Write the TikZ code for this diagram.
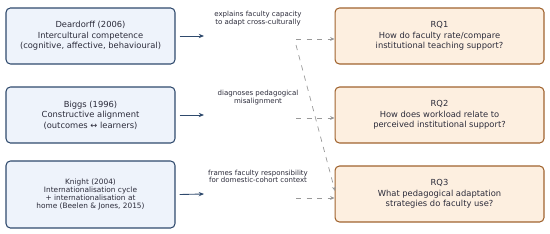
\documentclass[tikz,border=0pt]{standalone}
\usepackage{fontspec}
\setmainfont{DejaVu Sans}
\usetikzlibrary{arrows.meta}
\definecolor{srcline}{HTML}{2F4A6D}
\definecolor{srcfill}{HTML}{EEF3FB}
\definecolor{rqline}{HTML}{A0632E}
\definecolor{rqfill}{HTML}{FDEFE0}
\definecolor{txt}{HTML}{2B2B3A}
\begin{document}
\begin{tikzpicture}[x=0.02cm,y=-0.02cm,>=stealth,
  srcbox/.style={draw=srcline,fill=srcfill,rounded corners=2.5pt,line width=0.6pt,minimum width=3.38cm,minimum height=1.12cm,align=center,text=txt,font=\fontsize{4.75}{6}\selectfont},
  rqbox/.style={draw=rqline,fill=rqfill,rounded corners=2.5pt,line width=0.6pt,minimum width=4.18cm,minimum height=1.12cm,align=center,text=txt,font=\fontsize{4.75}{6}\selectfont},
  linklabel/.style={align=center,text=txt,font=\fontsize{4}{4.4}\selectfont},
  flow/.style={-{Stealth[length=3pt,width=2.4pt]},draw=srcline,line width=0.5pt},
  maps/.style={-{Stealth[length=2.5pt,width=2.2pt]},draw=gray!80,dashed,line width=0.4pt}]
  \useasboundingbox (0,0) rectangle (550,233);
  % theory boxes
  \node[srcbox] (d) at (90.5,36) {Deardorff (2006)\\Intercultural competence\\(cognitive, affective, behavioural)};
  \node[srcbox] (b) at (90.5,115) {Biggs (1996)\\Constructive alignment\\(outcomes ↔ learners)};
  \node[srcbox,minimum height=1.34cm,font=\fontsize{4.2}{4.45}\selectfont] (k) at (90.5,194.5) {Knight (2004)\\Internationalisation cycle\\+ internationalisation at\\home (Beelen \& Jones, 2015)};
  % research questions
  \node[rqbox] (q1) at (439.5,36) {RQ1\\How do faculty rate/compare\\institutional teaching support?};
  \node[rqbox] (q2) at (439.5,115) {RQ2\\How does workload relate to\\perceived institutional support?};
  \node[rqbox] (q3) at (439.5,194) {RQ3\\What pedagogical adaptation\\strategies do faculty use?};
  % link texts
  \node[linklabel] (l1) at (258,18.5) {explains faculty capacity\\to adapt cross-culturally};
  \node[linklabel] (l2) at (258,97.5) {diagnoses pedagogical\\misalignment};
  \node[linklabel] (l3) at (258,176.5) {frames faculty responsibility\\for domestic-cohort context};
  \coordinate (d-out) at (204,36);
  \coordinate (b-out) at (204,115);
  \coordinate (k-out) at (204,194);
  \coordinate (m1) at (296,39);
  \coordinate (m2) at (296,118);
  \coordinate (m3) at (296,198);
  \coordinate (m1b) at (296,45);
  \coordinate (q3-in) at (335,191);
  \draw[flow] ([xshift=0.08cm]d.east) -- (d-out);
  \draw[flow] ([xshift=0.08cm]b.east) -- (b-out);
  \draw[flow] ([xshift=0.08cm]k.east) -- (k-out);
  \draw[maps] (m1) -- (m1 -| q1.west);
  \draw[maps] (m2) -- (m2 -| q2.west);
  \draw[maps] (m3) -- (m3 -| q3.west);
  \draw[maps] (m1b) -- (q3-in);
\end{tikzpicture}
\end{document}
